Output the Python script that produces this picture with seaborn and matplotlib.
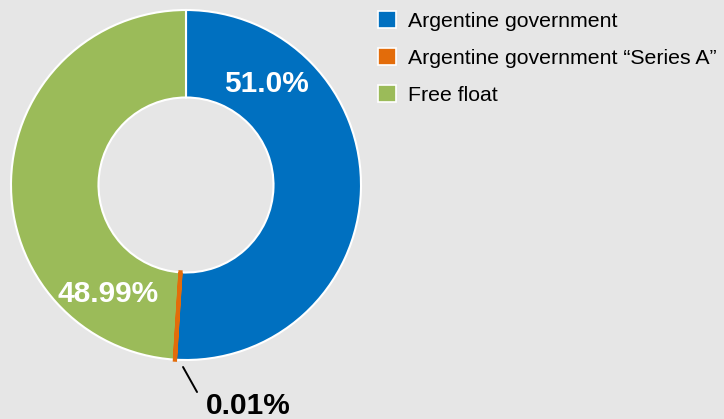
import numpy as np
import matplotlib
matplotlib.use("Agg")
import matplotlib.pyplot as plt
import seaborn as sns
from matplotlib.patches import Patch

# ---- data ----
categories = ["Argentine government", "Argentine government \u201cSeries A\u201d", "Free float"]
shares = [51.0, 0.01, 48.99]
labels = ["51.0%", "0.01%", "48.99%"]

# ---- style ----
bg = "#e6e6e6"
colors = ["#0070c0", "#e36c0a", "#9bbb59"]
sns.set_style("white", {"axes.facecolor": bg, "figure.facecolor": bg,
                        "text.color": "black"})
plt.rcParams["font.family"] = ["Liberation Sans", "DejaVu Sans"]
plt.rcParams["text.color"] = "black"

W, H = 724, 419
fig = plt.figure(figsize=(W / 100, H / 100), dpi=100)
fig.patch.set_facecolor(bg)

cx, cy, R = 186, 185, 175
ax = fig.add_axes([(cx - R) / W, (H - cy - R) / H, 2 * R / W, 2 * R / H])
ax.set_facecolor(bg)

wedges, _ = ax.pie(shares, colors=colors, startangle=90, counterclock=False,
                   radius=1.0,
                   wedgeprops=dict(width=0.5, edgecolor="white", linewidth=1.5))
ax.set_xlim(-1, 1)
ax.set_ylim(-1, 1)
ax.set_aspect("equal")
ax.axis("off")
# make the tiny slice visible
wedges[1].set_edgecolor(colors[1])
wedges[1].set_linewidth(3)
wedges[1].set_zorder(5)

# in-ring labels
def polar(frac_from_top_deg, r):
    a = np.deg2rad(90 - frac_from_top_deg)
    return r * np.cos(a), r * np.sin(a)

x, y = polar(38.4, 0.74)
ax.text(x, y, labels[0], color="white", fontsize=21.5, fontweight="bold",
        ha="center", va="center")
x, y = polar(215.7, 0.765)
ax.text(x, y, labels[2], color="white", fontsize=21.5, fontweight="bold",
        ha="center", va="center")

# small slice label with leader
ax.plot([-0.017, 0.063], [-1.04, -1.183], color="black", lw=1.4, clip_on=False)
ax.text(0.354, -1.262, labels[1], color="black", fontsize=21.5, fontweight="bold",
        ha="center", va="center", clip_on=False)

# legend
handles = [Patch(facecolor=c, edgecolor="white", linewidth=1.2) for c in colors]
leg = fig.legend(handles, categories, loc="upper left",
                 bbox_to_anchor=(369 / W, 1 - 3 / H), frameon=False,
                 fontsize=15.3, handlelength=0.85, handleheight=0.85,
                 handletextpad=0.6, labelspacing=0.8, borderaxespad=0)
for t in leg.get_texts():
    t.set_color("black")

fig.savefig("out.png", dpi=100, facecolor=bg)
